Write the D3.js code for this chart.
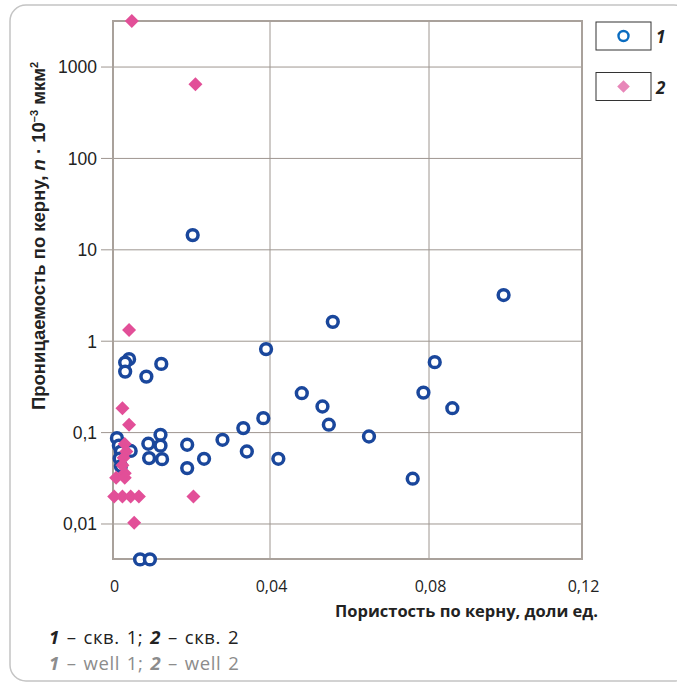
<!DOCTYPE html>
<html>
<head>
<meta charset="utf-8">
<script src="https://cdn.jsdelivr.net/npm/d3@7"></script>
<style>
body{margin:0;background:#fff;}
svg{display:block;font-family:"Open Sans",sans-serif;}
</style>
</head>
<body>
<svg id="chart" width="677" height="683"></svg>
<script>
// well 1 (circles)
var well1Por = [0.0995, 0.0203, 0.0558, 0.039, 0.0815, 0.0786, 0.0861, 0.048, 0.0532, 0.0548,
	0.0649, 0.0759, 0.0383, 0.0332, 0.0279, 0.0189, 0.0341, 0.0232, 0.0189, 0.0421,
	0.0085, 0.0123, 0.0041, 0.0031, 0.0031, 0.0121, 0.009, 0.0121, 0.0092, 0.0125,
	0.001, 0.0015, 0.002, 0.0017, 0.002, 0.0045, 0.0069, 0.0094];
var well1Perm = [3.2, 14.5, 1.63, 0.82, 0.59, 0.274, 0.185, 0.27, 0.193, 0.122,
	0.0906, 0.0313, 0.144, 0.112, 0.0834, 0.0736, 0.0621, 0.0517, 0.0409, 0.0517,
	0.41, 0.565, 0.636, 0.584, 0.465, 0.0946, 0.0755, 0.072, 0.0526, 0.0512,
	0.087, 0.072, 0.062, 0.052, 0.043, 0.063, 0.0041, 0.0041];
// well 2 (diamonds)
var well2Por = [0.0048, 0.021, 0.0041, 0.0024, 0.0041, 0.003, 0.0034, 0.0027, 0.0024, 0.003,
	0.0008, 0.003, 0.0003, 0.0024, 0.0045, 0.0066, 0.0205, 0.0054];
var well2Perm = [3190, 649, 1.33, 0.185, 0.122, 0.075, 0.062, 0.053, 0.044, 0.036,
	0.032, 0.032, 0.02, 0.02, 0.02, 0.02, 0.02, 0.0103];

var xTicks = [0, 0.04, 0.08, 0.12];
var yTicks = [0.01, 0.1, 1, 10, 100, 1000];
var legendNames = ["1", "2"];

var svg = d3.select('#chart');

// outer rounded frame
svg.append('rect')
	.attr('x', 10).attr('y', 5).attr('width', 680).attr('height', 676)
	.attr('rx', 16).attr('fill', 'none').attr('stroke', '#c4c4c4').attr('stroke-width', 1.5);

var x = d3.scaleLinear().domain(xTicks).range([113, 270, 429, 582]);
var y = d3.scaleLog().domain([0.00414, 3190]).range([559, 21]);

// grid + small ticks left of the frame
svg.append('g').selectAll('line').data(yTicks).enter().append('line')
	.attr('x1', 101).attr('x2', 582)
	.attr('y1', function(d){return y(d);}).attr('y2', function(d){return y(d);})
	.attr('stroke', '#9e9690').attr('stroke-width', 1);
svg.append('g').selectAll('line').data([0.04, 0.08]).enter().append('line')
	.attr('x1', function(d){return x(d);}).attr('x2', function(d){return x(d);})
	.attr('y1', 21).attr('y2', 559)
	.attr('stroke', '#9e9690').attr('stroke-width', 1);

// plot frame
svg.append('rect')
	.attr('x', x(0)).attr('y', 21).attr('width', x(0.12) - x(0)).attr('height', 538)
	.attr('fill', 'none').attr('stroke', '#a9a19b').attr('stroke-width', 2);

// tick labels
svg.append('g').selectAll('text').data(yTicks).enter().append('text')
	.attr('x', 97).attr('y', function(d){return y(d) + 6.3;})
	.attr('text-anchor', 'end').attr('font-family', '"Liberation Sans",Arial,sans-serif')
	.attr('font-size', 17.5).attr('fill', '#222')
	.text(function(d){return d < 1 ? String(d).replace('.', ',') : d;});
svg.append('g').selectAll('text').data(xTicks).enter().append('text')
	.attr('x', function(d){return x(d) + 1.5;}).attr('y', 592)
	.attr('text-anchor', 'middle').attr('font-size', 16).attr('fill', '#222')
	.text(function(d){return d == 0 ? '0' : d3.format('.2f')(d).replace('.', ',');});

// axis titles
svg.append('text')
	.attr('x', 598).attr('y', 617).attr('text-anchor', 'end')
	.attr('font-size', 16.5).attr('font-weight', 'bold').attr('fill', '#222')
	.text('Пористость по керну, доли ед.');

var yt = svg.append('text')
	.attr('transform', 'translate(45,236) rotate(-90)').attr('text-anchor', 'middle')
	.attr('font-family', '"Liberation Sans",Arial,sans-serif')
	.attr('font-size', 18.5).attr('font-weight', 'bold').attr('fill', '#222');
yt.append('tspan').text('Проницаемость по керну, ');
yt.append('tspan').attr('font-style', 'italic').text('n');
yt.append('tspan').text(' · 10');
yt.append('tspan').attr('font-size', 11).attr('dy', -7).text('–3');
yt.append('tspan').attr('dy', 7).text(' мкм');
yt.append('tspan').attr('font-size', 11).attr('dy', -7).text('2');

// points
var diamond = d3.symbol().type(d3.symbolSquare).size(98);
svg.append('g').selectAll('circle').data(d3.range(well1Por.length)).enter().append('circle')
	.attr('cx', function(i){return x(well1Por[i]);})
	.attr('cy', function(i){return y(well1Perm[i]);})
	.attr('r', 5.4).attr('fill', '#fff').attr('stroke', '#1a479c').attr('stroke-width', 3.5);
svg.append('g').selectAll('path').data(d3.range(well2Por.length)).enter().append('path')
	.attr('d', diamond)
	.attr('transform', function(i){return 'translate(' + x(well2Por[i]) + ',' + y(well2Perm[i]) + ') rotate(45)';})
	.attr('fill', '#e24f98');

// legend
var lg = svg.append('g');
lg.selectAll('rect').data(legendNames).enter().append('rect')
	.attr('x', 596).attr('y', function(d, i){return 22 + i * 50.5;})
	.attr('width', 55).attr('height', 28)
	.attr('fill', '#fff').attr('stroke', '#333').attr('stroke-width', 1);
lg.selectAll('text').data(legendNames).enter().append('text')
	.attr('x', 656).attr('y', function(d, i){return 43 + i * 50.5;})
	.attr('font-size', 17).attr('font-weight', 'bold').attr('font-style', 'italic').attr('fill', '#222')
	.text(function(d){return d;});
lg.append('circle').attr('cx', 623.5).attr('cy', 36).attr('r', 5)
	.attr('fill', '#fff').attr('stroke', '#0a6cc0').attr('stroke-width', 2.4);
lg.append('path').attr('d', d3.symbol().type(d3.symbolSquare).size(80))
	.attr('transform', 'translate(623.5,86.5) rotate(45)').attr('fill', '#e887b9');

// caption
var c1 = svg.append('text').attr('x', 49).attr('y', 644).attr('font-size', 18.5).attr('fill', '#222')
	.attr('letter-spacing', 0.6).attr('word-spacing', 1.5);
c1.append('tspan').attr('font-weight', 'bold').attr('font-style', 'italic').text('1');
c1.append('tspan').text(' – скв. 1; ');
c1.append('tspan').attr('font-weight', 'bold').attr('font-style', 'italic').text('2');
c1.append('tspan').text(' – скв. 2');
var c2 = svg.append('text').attr('x', 49).attr('y', 670).attr('font-size', 18.5).attr('fill', '#8c8c8c')
	.attr('letter-spacing', 0.6).attr('word-spacing', 1.5);
c2.append('tspan').attr('font-weight', 'bold').attr('font-style', 'italic').text('1');
c2.append('tspan').text(' – well 1; ');
c2.append('tspan').attr('font-weight', 'bold').attr('font-style', 'italic').text('2');
c2.append('tspan').text(' – well 2');
</script>
</body>
</html>
